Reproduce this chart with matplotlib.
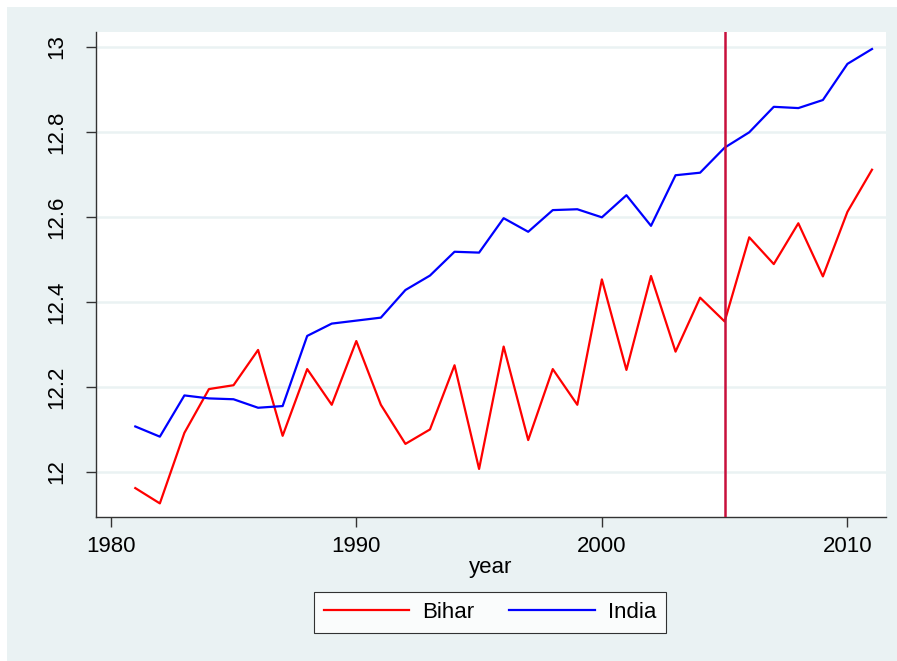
import matplotlib
matplotlib.use('Agg')
import matplotlib.pyplot as plt
from matplotlib.patches import Rectangle

# data
years = list(range(1981, 2012))
bihar = [11.962, 11.926, 12.092, 12.195, 12.204, 12.287, 12.085, 12.242, 12.158, 12.308,
         12.158, 12.066, 12.100, 12.251, 12.007, 12.295, 12.075, 12.242, 12.158, 12.453,
         12.240, 12.461, 12.283, 12.410, 12.354, 12.552, 12.489, 12.585, 12.460, 12.612,
         12.711]
india = [12.107, 12.083, 12.180, 12.173, 12.171, 12.151, 12.155, 12.320, 12.349, 12.356,
         12.363, 12.428, 12.462, 12.518, 12.516, 12.597, 12.565, 12.616, 12.618, 12.599,
         12.651, 12.579, 12.698, 12.704, 12.763, 12.799, 12.859, 12.856, 12.875, 12.960,
         12.995]
cutoff_year = 2005
xticks = [1980, 1990, 2000, 2010]
yticks = [12, 12.2, 12.4, 12.6, 12.8, 13]
ytick_labels = ['12', '12.2', '12.4', '12.6', '12.8', '13']

plt.rcParams['font.family'] = ['Liberation Sans', 'DejaVu Sans']
bg = '#EAF2F3'

fig = plt.figure(figsize=(8.97, 6.61), dpi=100, facecolor=bg)
# white strip on the top and left edges
fig.patches.append(Rectangle((0, 0), 7 / 897, 1, transform=fig.transFigure,
                             facecolor='white', edgecolor='none', zorder=0))
fig.patches.append(Rectangle((0, 1 - 7 / 661), 1, 7 / 661, transform=fig.transFigure,
                             facecolor='white', edgecolor='none', zorder=0))

ax = fig.add_axes([96 / 897, (661 - 517) / 661, (886 - 96) / 897, (517 - 32) / 661])
ax.set_facecolor('white')

ax.plot(years, bihar, color='#FF0000', lw=1.6, label='Bihar', zorder=3)
ax.plot(years, india, color='#0000FF', lw=1.6, label='India', zorder=3)
ax.axvline(cutoff_year, color='#C8103C', lw=1.8, zorder=4)

ax.set_xlim(1979.4, 2011.57)
ax.set_ylim(11.894, 13.035)
ax.set_xticks(xticks)
ax.set_yticks(yticks)
ax.set_yticklabels(ytick_labels, rotation=90, va='center')
ax.grid(axis='y', color=bg, lw=1.8, zorder=1)
ax.grid(axis='x', visible=False)

for s in ['top', 'right']:
    ax.spines[s].set_visible(False)
for s in ['left', 'bottom']:
    ax.spines[s].set_color('#333333')
    ax.spines[s].set_linewidth(1.0)

ax.tick_params(axis='x', length=7, width=1, color='#333333', labelsize=16, pad=7)
ax.tick_params(axis='y', length=7, width=1, color='#333333', labelsize=16, pad=14)
ax.set_xlabel('year', fontsize=16, labelpad=0)

leg = ax.legend(loc='center', bbox_to_anchor=(490 / 897, (661 - 612.5) / 661),
                bbox_transform=fig.transFigure, ncol=2, fontsize=16, frameon=True,
                fancybox=False, edgecolor='black', handlelength=3.83, columnspacing=1.58,
                borderpad=0.45, handletextpad=0.59, borderaxespad=0)
leg.get_frame().set_linewidth(0.8)
leg.get_frame().set_facecolor('white')

fig.savefig('out.png', dpi=100, facecolor=bg)
